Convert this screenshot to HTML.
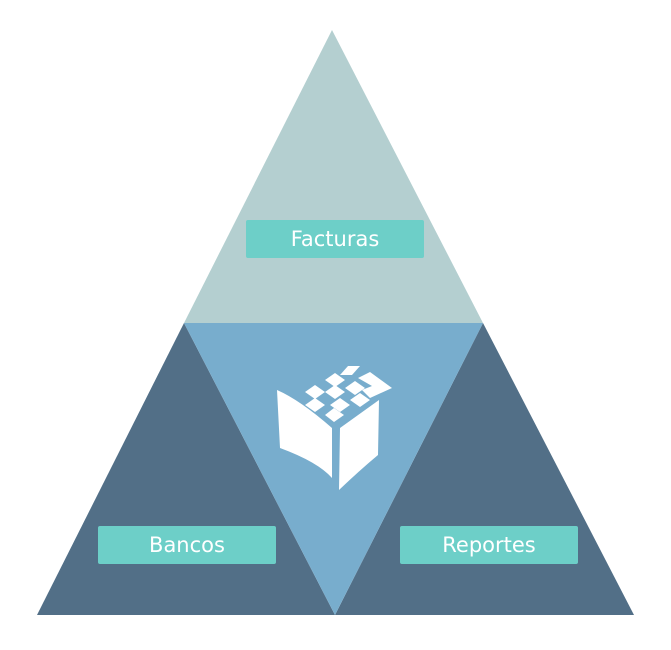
<!DOCTYPE html>
<html><head><style>
body{margin:0;background:#fff;width:671px;height:650px;overflow:hidden}
.l{position:absolute;background:#6dcfc8;color:#fff;font-family:"DejaVu Sans","Liberation Sans",sans-serif;font-size:21px;text-align:center;line-height:38px;width:178px;height:38px;border-radius:2px}
</style></head><body>
<svg width="671" height="650" style="position:absolute;left:0;top:0">
<polygon points="332,30 184,323 483,323" fill="#b4cfd0"/>
<polygon points="184,323 37,615 335,615" fill="#526f87"/>
<polygon points="483,323 335,615 634,615" fill="#526f87"/>
<polygon points="184,323 483,323 335,615" fill="#78adcd"/>
<g fill="#fff">
<path d="M277,390 Q300,400 332,428 L332,478 Q318,462 280,448 Z"/>
<path d="M340,428 L379,400 L378,455 Q360,470 339,490 Z"/>
<polygon points="325,380 335,373 345,380 335,387"/>
<polygon points="340,375 348,366 360,366 352,375"/>
<polygon points="358,378 370,372 392,388 370,398 362,390 372,386"/>
<polygon points="305,392 315,385 325,392 315,399"/>
<polygon points="325,392 335,385 345,392 335,399"/>
<polygon points="345,388 355,381 365,388 355,395"/>
<polygon points="305,405 315,398 325,405 315,412"/>
<polygon points="330,405 340,398 350,405 340,412"/>
<polygon points="350,400 360,393 370,400 360,407"/>
<polygon points="325,415 334,408 344,415 334,422"/>
</g>
</svg>
<div class="l" style="left:246px;top:220px">Facturas</div>
<div class="l" style="left:98px;top:526px">Bancos</div>
<div class="l" style="left:400px;top:526px">Reportes</div>
</body></html>
